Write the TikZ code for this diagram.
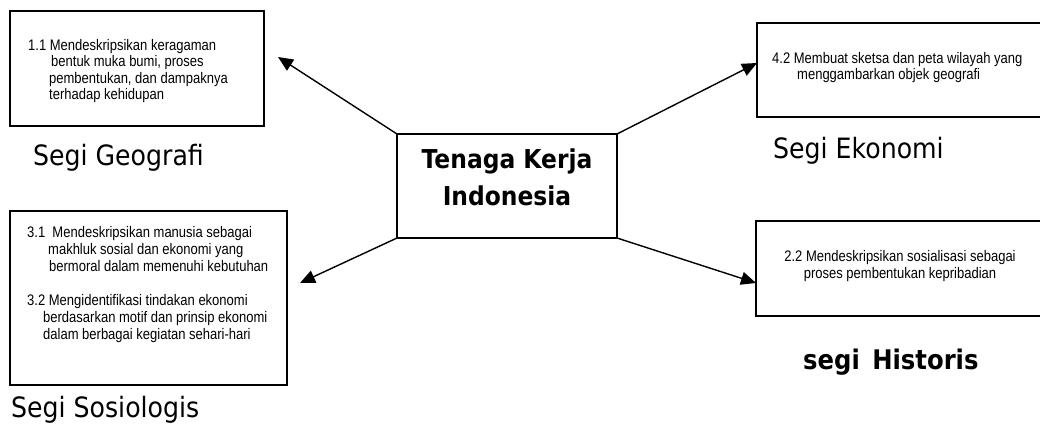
\documentclass[tikz,border=0pt]{standalone}
\usepackage{fontspec}
\usetikzlibrary{arrows.meta}
\newfontfamily\lblfont[FakeStretch=0.9]{DejaVu Sans}
\newfontfamily\smfont[FakeStretch=0.85]{Liberation Sans}
\begin{document}
\begin{tikzpicture}[x=1pt,y=-1pt,
  box/.style={draw, line width=1.6pt, inner sep=0pt, outer sep=0pt},
  conn/.style={line width=1.4pt, -{Triangle[length=15pt,width=13pt]}},
  smalltext/.style={anchor=base west, inner sep=0pt, font=\smfont\fontsize{15.3}{16.5}\selectfont},
  lbl/.style={anchor=base west, inner sep=0pt, font=\lblfont\fontsize{28}{32}\selectfont},
  blbl/.style={anchor=base west, inner sep=0pt, font=\lblfont\bfseries\fontsize{27}{32}\selectfont},
]
\useasboundingbox (0,0) rectangle (1040,432);

% boxes
\node[box, minimum width=254pt, minimum height=115pt] (geo) at (137,68.5) {};
\node[box, minimum width=293pt, minimum height=94pt] (eko) at (903.5,70) {};
\node[box, minimum width=294pt, minimum height=95pt] (his) at (903,268.5) {};
\node[box, minimum width=277pt, minimum height=174pt] (sos) at (148.5,298) {};
\node[box, minimum width=220pt, minimum height=104pt] (tk) at (507,186) {};

% central text
\node[anchor=base, inner sep=0pt, font=\lblfont\bfseries\fontsize{26}{37}\selectfont] (tktxt) at (507,168)
  {\begin{tabular}[t]{@{}c@{}}Tenaga Kerja\\Indonesia\end{tabular}};

% arrow tips
\coordinate (t1) at (278,57);
\coordinate (t2) at (757,63);
\coordinate (t3) at (300,283);
\coordinate (t4) at (756,283);
\draw[conn] (tk.north west) -- (t1);
\draw[conn] (tk.north east) -- (t2);
\draw[conn] (tk.south west) -- (t3);
\draw[conn] (tk.south east) -- (t4);

% box texts
\node[smalltext] (geotxt) at (28,50) {\begin{tabular}[t]{@{}l@{}}1.1 Mendeskripsikan keragaman\\
\hspace{23pt}bentuk muka bumi, proses\\
\hspace{21pt}pembentukan, dan dampaknya\\
\hspace{21pt}terhadap kehidupan\end{tabular}};

\node[smalltext, font=\smfont\fontsize{15.3}{16}\selectfont] (ekotxt) at (772,63) {\begin{tabular}[t]{@{}l@{}}4.2 Membuat sketsa dan peta wilayah yang\\
\hspace{25pt}menggambarkan objek geografi\end{tabular}};

\node[smalltext, anchor=base, font=\smfont\fontsize{15.3}{17}\selectfont] (histxt) at (900,261) {\begin{tabular}[t]{@{}c@{}}2.2 Mendeskripsikan sosialisasi sebagai\\
proses pembentukan kepribadian\end{tabular}};

\node[smalltext, font=\smfont\fontsize{15.3}{17}\selectfont] (sostxt) at (27,237) {\begin{tabular}[t]{@{}l@{}}3.1\ \ Mendeskripsikan manusia sebagai\\
\hspace{21pt}makhluk sosial dan ekonomi yang\\
\hspace{22pt}bermoral dalam memenuhi kebutuhan\\[17pt]
3.2 Mengidentifikasi tindakan ekonomi\\
\hspace{16pt}berdasarkan motif dan prinsip ekonomi\\
\hspace{16pt}dalam berbagai kegiatan sehari-hari\end{tabular}};

% labels
\node[lbl] (lgeo) at (33,165) {Segi Geografi};
\node[lbl] (leko) at (773,158) {Segi Ekonomi};
\node[blbl] (lhis) at (803,369) {segi\hspace{4pt} Historis};
\node[lbl] (lsos) at (11,417) {Segi Sosiologis};
\end{tikzpicture}
\end{document}
